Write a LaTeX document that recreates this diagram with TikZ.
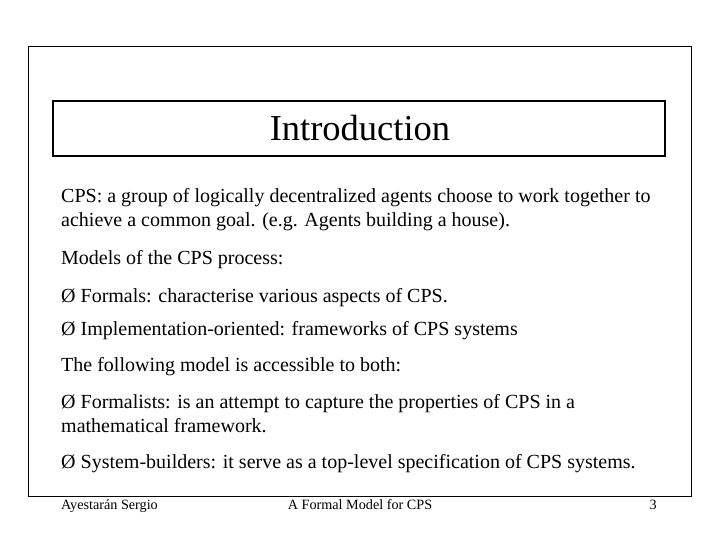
\documentclass[tikz,border=0pt]{standalone}
\usepackage{fontspec}
\setmainfont{Liberation Serif}
\begin{document}
\begin{tikzpicture}[x=1pt,y=-1pt,
  txt/.style={anchor=base west,inner sep=0pt,font=\fontsize{20}{24}\selectfont},
  foot/.style={anchor=base,inner sep=0pt,font=\fontsize{14.2}{16}\selectfont}]
\useasboundingbox (0,0) rectangle (720,540);
\draw[line width=1pt] (28,47) rectangle (691,496);
\draw[line width=1.3pt] (53,101) rectangle (665,156);
\node[inner sep=0pt,font=\fontsize{36.5}{40}\selectfont,anchor=base] (title) at (360,141) {Introduction};
\node[txt] (l1) at (61,203) {CPS: a group of logically decentralized agents choose to work together to};
\node[txt] (l2) at (61,226) {achieve a common goal. (e.g. Agents building a house).};
\node[txt] (l3) at (61,264) {Models of the CPS process:};
\node[txt] (l4) at (61,302) {Ø Formals: characterise various aspects of CPS.};
\node[txt] (l5) at (61,335) {Ø Implementation-oriented: frameworks of CPS systems};
\node[txt] (l6) at (61,371) {The following model is accessible to both:};
\node[txt] (l7) at (61,408) {Ø Formalists: is an attempt to capture the properties of CPS in a};
\node[txt] (l8) at (61,432) {mathematical framework.};
\node[txt] (l9) at (61,468) {Ø System-builders: it serve as a top-level specification of CPS systems.};
\node[foot,anchor=base west] (f1) at (61,509) {Ayestarán Sergio};
\node[foot] (f2) at (360,509) {A Formal Model for CPS};
\node[foot,anchor=base east] (f3) at (657,509) {3};
\end{tikzpicture}
\end{document}
